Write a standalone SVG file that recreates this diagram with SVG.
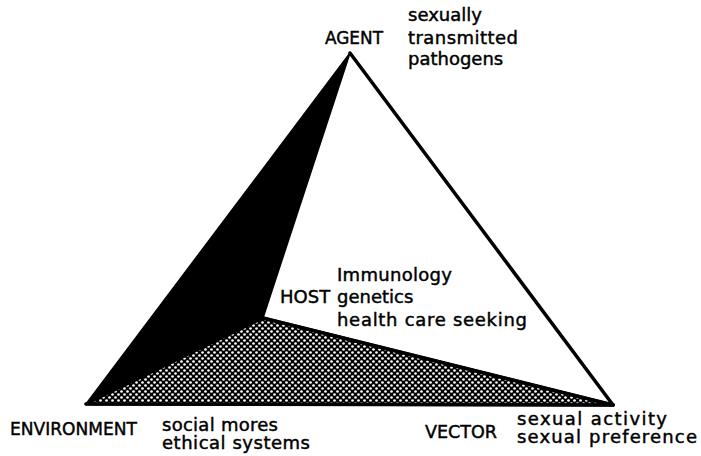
<svg xmlns="http://www.w3.org/2000/svg" width="701" height="456" viewBox="0 0 701 456">
<style>
text{font-family:"DejaVu Sans","Liberation Sans",sans-serif;font-size:18px;fill:#000;stroke:#000;stroke-width:0.45}
.edge{stroke:#000;stroke-width:3.5;fill:none;stroke-linejoin:miter;stroke-linecap:round}
</style>
<defs>
<pattern id="dots" width="6" height="6" patternUnits="userSpaceOnUse">
<rect width="6" height="6" fill="#000"/>
<circle cx="1.5" cy="1.5" r="1.35" fill="#fff"/>
<circle cx="4.5" cy="4.5" r="1.35" fill="#fff"/>
</pattern>
</defs>
<rect width="701" height="456" fill="#fff"/>
<g id="faces">
<polygon points="350,53 86,404 263,318" fill="#000" stroke="#000" stroke-width="1.5" stroke-linejoin="round"/>
<polygon points="86,404 263,318 613,405" fill="url(#dots)" stroke="#000" stroke-width="3" stroke-linejoin="round"/>
</g>
<g id="connectors">
<line class="edge" x1="350" y1="53" x2="613" y2="405"/>
<line class="edge" x1="86" y1="404" x2="613" y2="405" stroke-width="4"/>
<line class="edge" x1="263" y1="318" x2="613" y2="405" stroke-width="3"/>
</g>
<g id="agent">
<text x="325" y="44" textLength="58" lengthAdjust="spacingAndGlyphs">AGENT</text>
<text x="408" y="21">sexually</text>
<text x="408" y="44" textLength="110">transmitted</text>
<text x="408" y="65">pathogens</text>
</g>
<g id="host">
<text x="280" y="303">HOST</text>
<text x="337" y="281" textLength="115">Immunology</text>
<text x="337" y="303">genetics</text>
<text x="337" y="326" textLength="190">health care seeking</text>
</g>
<g id="environment">
<text x="10" y="435" textLength="127" lengthAdjust="spacingAndGlyphs">ENVIRONMENT</text>
<text x="162" y="431" textLength="116">social mores</text>
<text x="162" y="449" textLength="148">ethical systems</text>
</g>
<g id="vector">
<text x="425" y="438" textLength="72" lengthAdjust="spacingAndGlyphs">VECTOR</text>
<text x="517" y="425" textLength="150">sexual activity</text>
<text x="517" y="443" textLength="180">sexual preference</text>
</g>
</svg>
